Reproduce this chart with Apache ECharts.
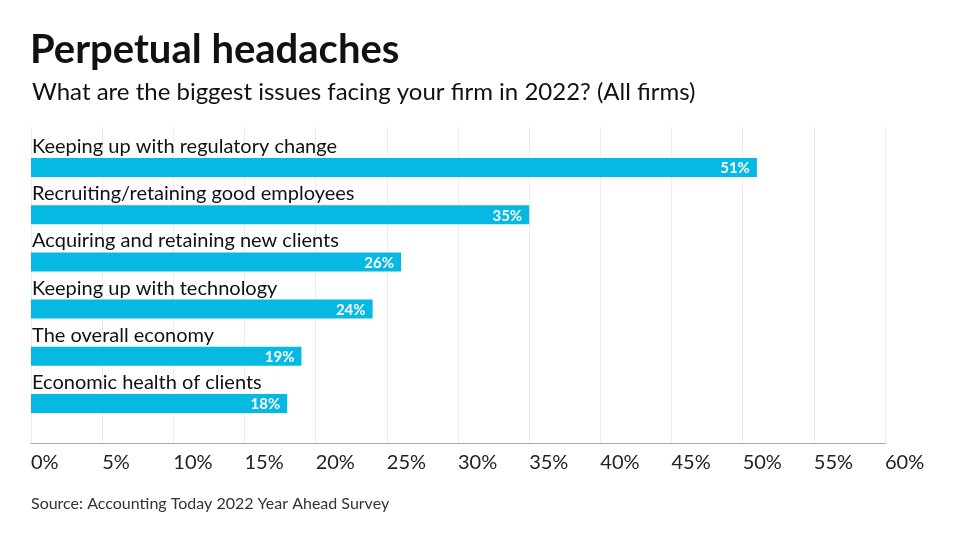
<!DOCTYPE html>
<html><head><meta charset="utf-8">
<script src="https://cdn.jsdelivr.net/npm/echarts@6/dist/echarts.min.js"></script>
<style>html,body{margin:0;padding:0;background:#fff}#c{width:960px;height:540px}</style>
</head><body><div id="c"></div>
<script>
const categories = ["Keeping up with regulatory change","Recruiting/retaining good employees","Acquiring and retaining new clients","Keeping up with technology","The overall economy","Economic health of clients"];
const values = [51,35,26,24,19,18];
const tickLabels = ["0%","5%","10%","15%","20%","25%","30%","35%","40%","45%","50%","55%","60%"];

const chart = echarts.init(document.getElementById('c'));
const F = 'Lato, "Noto Sans", sans-serif';
chart.setOption({
  animation:false,
  textStyle:{fontFamily:F},
  title:[
    {text:'Perpetual headaches',left:30,top:30,padding:0,textStyle:{fontFamily:F,fontSize:40,fontWeight:'bold',color:'#111'}},
    {text:'What are the biggest issues facing your firm in 2022? (All firms)',left:32,top:80,padding:0,textStyle:{fontFamily:F,fontSize:24,fontWeight:'normal',color:'#111'}},
    {text:'Source: Accounting Today 2022 Year Ahead Survey',left:31,top:496,padding:0,textStyle:{fontFamily:F,fontSize:16,fontWeight:'normal',color:'#333'}}
  ],
  grid:[
    {left:31,width:854,top:144,height:283},
    {left:31,width:854,top:127,height:316}
  ],
  xAxis:[
    {gridIndex:0,type:'value',min:0,max:60,interval:5,show:false},
    {gridIndex:1,type:'value',min:0,max:60,interval:5,
     axisLine:{show:true,lineStyle:{color:'#aaa',width:1}},axisTick:{show:false},
     splitLine:{show:true,lineStyle:{color:'#ececec',width:1}},
     axisLabel:{fontFamily:F,fontSize:20,color:'#222',align:'left',margin:10,formatter:(v)=>tickLabels[Math.round(v/5)]}}
  ],
  yAxis:[
    {gridIndex:0,type:'category',data:categories,inverse:true,
     axisLine:{show:false},axisTick:{show:false},splitLine:{show:false},
     axisLabel:{inside:true,align:'left',verticalAlign:'bottom',margin:1,padding:[0,0,11,0],fontFamily:F,fontSize:20,color:'#111'},z:10},
    {gridIndex:1,type:'value',show:false}
  ],
  series:[{
    type:'bar',xAxisIndex:0,yAxisIndex:0,data:values,barWidth:19,
    itemStyle:{color:'#05b9e3'},
    label:{show:true,position:'insideRight',offset:[-2,1],formatter:'{c}%',color:'#fff',fontFamily:F,fontWeight:'bold',fontSize:15}
  }]
});
</script></body></html>
